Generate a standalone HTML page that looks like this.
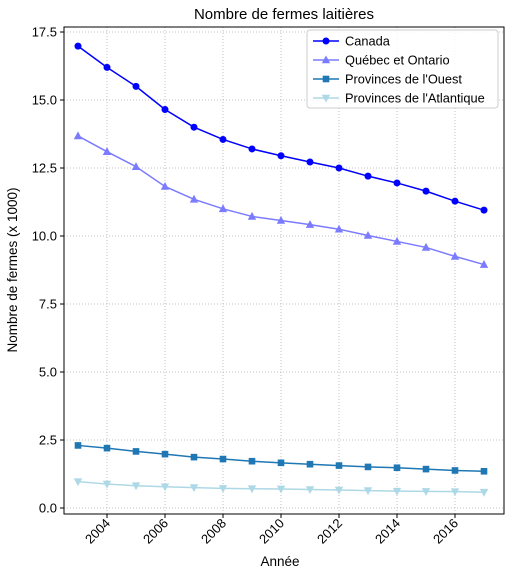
<!DOCTYPE html>
<html><head><meta charset="utf-8"><style>
body{margin:0;background:#fff;font-family:"Liberation Sans",sans-serif;}
svg text{font-family:"Liberation Sans",sans-serif;fill:#000;}
</style></head><body>
<svg id="chart" width="514" height="575"></svg>
<script>
const years=[2003,2004,2005,2006,2007,2008,2009,2010,2011,2012,2013,2014,2015,2016,2017];
const canada=[16.98,16.2,15.5,14.65,14.0,13.55,13.2,12.95,12.72,12.5,12.2,11.95,11.65,11.28,10.95];
const quebec=[13.68,13.1,12.55,11.82,11.35,11.0,10.72,10.57,10.42,10.25,10.02,9.8,9.58,9.25,8.95];
const ouest=[2.3,2.2,2.08,1.98,1.87,1.8,1.72,1.66,1.61,1.56,1.51,1.48,1.43,1.38,1.35];
const atlantique=[0.97,0.88,0.82,0.78,0.75,0.72,0.71,0.7,0.68,0.66,0.64,0.62,0.61,0.6,0.58];
const yTicks=[0,2.5,5,7.5,10,12.5,15,17.5];
const xTicks=[2004,2006,2008,2010,2012,2014,2016];
const L=64,R=504,T=27,B=514;
const x=v=>78+(v-2003)*29;
const y=v=>508-v*68/2.5;
const svg=document.getElementById('chart');
const NS='http://www.w3.org/2000/svg';
function mk(tag,attrs,parent){const e=document.createElementNS(NS,tag);for(const k in attrs)e.setAttribute(k,attrs[k]);(parent||svg).appendChild(e);return e;}
const grid=mk('g',{});


yTicks.forEach(v=>{
 mk('line',{x1:L,x2:R,y1:y(v),y2:y(v),stroke:'#b0b0b0','stroke-dasharray':'1,2','stroke-width':0.8},grid);
 mk('line',{x1:L-4,x2:L,y1:y(v),y2:y(v),stroke:'#000'});
 const t=mk('text',{x:L-7,y:y(v)+4.5,'text-anchor':'end','font-size':13});
 t.textContent=v.toFixed(1);
 
 
});
xTicks.forEach(v=>{
 mk('line',{x1:x(v),x2:x(v),y1:T,y2:B,stroke:'#b0b0b0','stroke-dasharray':'1,2','stroke-width':0.8},grid);
 mk('line',{x1:x(v),x2:x(v),y1:B,y2:B+4,stroke:'#000'});
 const t=mk('text',{x:x(v)+4,y:B+10,'text-anchor':'end','font-size':13,transform:`rotate(-45 ${x(v)+4} ${B+10})`});
 t.textContent=v;
 
 
});
const frame=mk('rect',{x:L,y:T,width:R-L,height:B-T,fill:'none',stroke:'#000','stroke-width':1});


function marker(type,cx,cy,color,g){
 if(type==='o')return mk('circle',{cx,cy,r:3.5,fill:color},g);
 if(type==='s')return mk('rect',{x:cx-3.3,y:cy-3.3,width:6.6,height:6.6,fill:color},g);
 if(type==='^')return mk('polygon',{points:`${cx},${cy-4.5} ${cx-4.2},${cy+3.3} ${cx+4.2},${cy+3.3}`,fill:color},g);
 return mk('polygon',{points:`${cx},${cy+4.5} ${cx-4.2},${cy-3.3} ${cx+4.2},${cy-3.3}`,fill:color},g);
}
const series=[
 {name:'Canada',data:canada,color:'#0000ff',m:'o',key:'series-canada'},
 {name:'Québec et Ontario',data:quebec,color:'#7b7bff',m:'^',key:'series-quebec-ontario'},
 {name:"Provinces de l'Ouest",data:ouest,color:'#1f77b4',m:'s',key:'series-ouest'},
 {name:"Provinces de l'Atlantique",data:atlantique,color:'#add8e6',m:'v',key:'series-atlantique'}
];
series.forEach(s=>{
 const g=mk('g',{});
 
 
 mk('polyline',{points:s.data.map((v,i)=>x(years[i])+','+y(v)).join(' '),fill:'none',stroke:s.color,'stroke-width':1.5},g);
 s.data.forEach((v,i)=>{const p=marker(s.m,x(years[i]),y(v),s.color,g);
  
  });
});
const lg=mk('g',{});


mk('rect',{x:307,y:30,width:191,height:78,rx:3,fill:'#fff','fill-opacity':0.85,stroke:'#ccc'},lg);
series.forEach((s,i)=>{
 const yy=41+i*19;
 const e=mk('g',{},lg);
 
 
 mk('line',{x1:313,x2:339,y1:yy,y2:yy,stroke:s.color,'stroke-width':1.5},e);
 marker(s.m,326,yy,s.color,e);
 const t=mk('text',{x:345,y:yy+4.5,'font-size':12.8},e);t.textContent=s.name;
});
const title=mk('text',{x:284,y:19,'text-anchor':'middle','font-size':15});
title.textContent='Nombre de fermes laitières';


const xt=mk('text',{x:280,y:566,'text-anchor':'middle','font-size':13.5});
xt.textContent='Année';


const yt=mk('text',{x:17,y:270,'text-anchor':'middle','font-size':13.5,transform:'rotate(-90 17 270)'});
yt.textContent='Nombre de fermes (x 1000)';


</script>
</body></html>
